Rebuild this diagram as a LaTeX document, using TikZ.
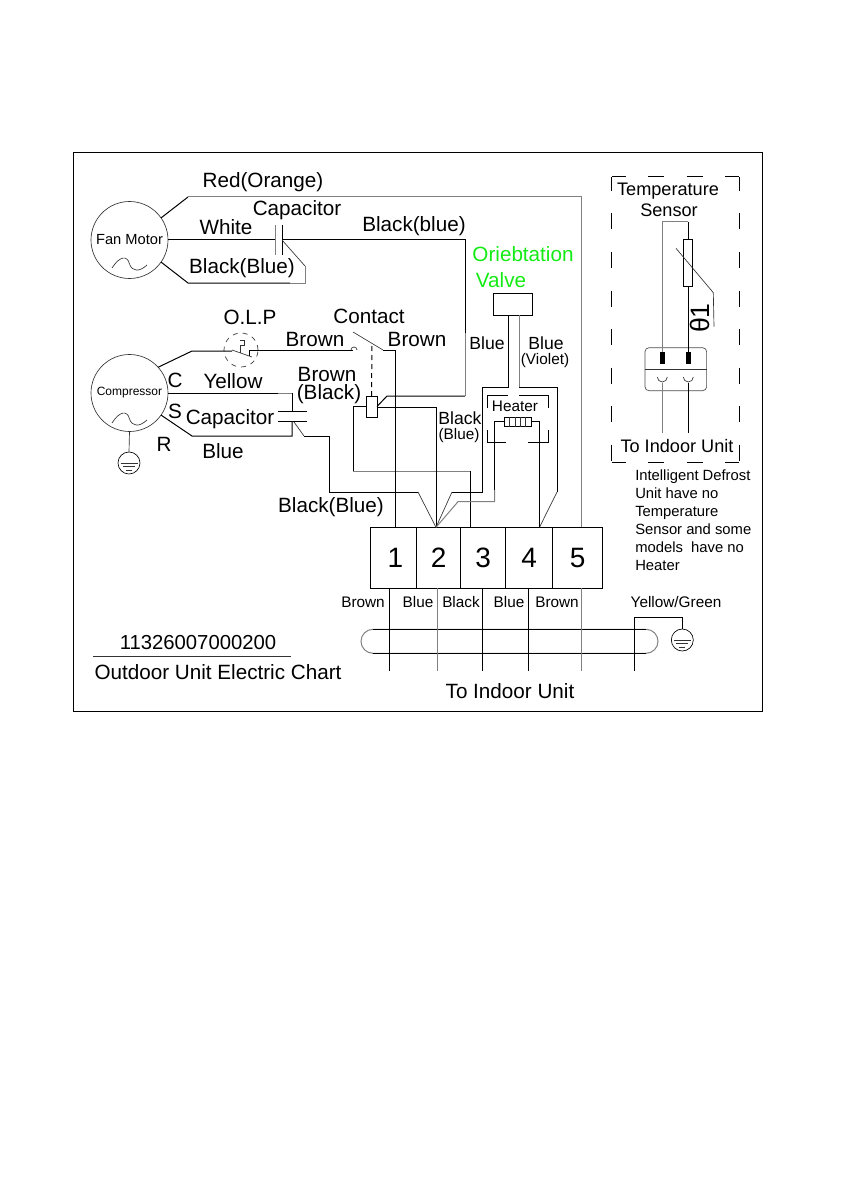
\documentclass[tikz,border=0pt]{standalone}
\usepackage{fontspec}
\setmainfont{Liberation Sans}
\usetikzlibrary{positioning}
\newcommand{\px}{0.75pt}
\definecolor{valvegreen}{RGB}{20,235,20}
\tikzset{
    wire/.style={draw=black, line width=0.75pt},
    greywire/.style={draw=black!50, line width=0.75pt},
    thinwire/.style={draw=black!80, line width=0.5pt},
    dashframe/.style={draw=black, line width=0.75pt, dash pattern=on 16*\px off 22.5*\px, dash phase=2*\px},
    motor/.style={
        circle, draw=black!80, line width=0.5pt,
        minimum size=77*\px, inner sep=0pt, outer sep=0pt
    },
    cell/.style={
        rectangle, draw=black, line width=0.75pt, inner sep=0pt, outer sep=0pt,
        minimum height=61*\px, font=\fontsize{21}{24}\selectfont
    },
    boxpart/.style={rectangle, draw=black, line width=0.75pt, inner sep=0pt, outer sep=0pt},
    earth/.style={
        circle, draw=black, line width=0.5pt,
        minimum size=22*\px, inner sep=0pt, outer sep=0pt
    },
    biglabel/.style={font=\fontsize{15.5}{18}\selectfont, inner sep=0pt},
    midlabel/.style={font=\fontsize{13.2}{15}\selectfont, inner sep=0pt},
    smalllabel/.style={font=\fontsize{11.5}{13.5}\selectfont, inner sep=0pt}
}
\newcommand{\acwave}[2]{\draw[thinwire] (#1-17.5,#2+4) .. controls (#1-10,#2-8) and (#1-2,#2-9) .. (#1,#2) .. controls (#1+3,#2+8) and (#1+10,#2+8) .. (#1+17.5,#2+1);}
\newcommand{\earthbars}[2]{
    \draw[thinwire] (#1-8.5,#2) -- (#1+8.5,#2);
    \draw[thinwire] (#1-6,#2+3.5) -- (#1+6,#2+3.5);
    \draw[thinwire] (#1-3,#2+7) -- (#1+3,#2+7);
}

\begin{document}
\begin{tikzpicture}[x=\px, y=-\px]
\useasboundingbox (0,0) rectangle (842,1191);
\draw[thinwire, draw=black] (73,152) rectangle (762,711);

% Motors
\node[motor, font=\fontsize{11}{13}\selectfont] (fanmotor) at (129.5,240) {Fan Motor};
\node[motor, font=\fontsize{9}{11}\selectfont] (compressor) at (129.5,393) {Compressor};
\acwave{129.5}{264}
\acwave{129.5}{419}

% Terminal block
\node[cell, minimum width=46*\px] (term1) at (393.7,557.8) {\hspace*{2.5pt}1};
\node[cell, minimum width=44*\px] (term2) at (438.7,557.8) {2};
\node[cell, minimum width=45*\px] (term3) at (483.2,557.8) {3};
\node[cell, minimum width=47*\px] (term4) at (529.2,557.8) {4};
\node[cell, minimum width=50*\px] (term5) at (577.7,557.8) {5};
\coordinate (in1) at (395,527.3);
\coordinate (in2) at (436,527.3);
\coordinate (in3) at (470.7,527.3);
\coordinate (in4) at (539.5,527.3);
\coordinate (in5) at (581.5,527.3);

% Fan capacitor and red wire
\coordinate (fancapl) at (275,240);
\coordinate (fancapr) at (282,240);
\draw[greywire] (fancapl |- 0,225) -- (fancapl |- 0,255);
\draw[wire] (fancapr |- 0,225) -- (fancapr |- 0,255);
\draw[wire] (fanmotor.east) -- (fancapl);
\draw[wire] (fanmotor.35) -- (188,197);
\draw[greywire] (188,197) -| (in5);
\draw[wire] (fanmotor.-35) -- (188,283) -- (290,283);
\draw[greywire] (290,283) -- (305,283) -- (305,266);
\draw[thinwire] (305,266) -- (fancapr);

% Relay coil and contact
\node[boxpart, minimum width=11*\px, minimum height=21*\px] (coil) at (371.5,406.5) {};
\draw[wire] (fancapr) -- (465,240) -- (465,333);
\draw[greywire] (465,333) -- (465,396);
\draw[wire] (465,396) -- (387,396) -- (coil.east);
\draw[wire, dash pattern=on 5*\px off 4*\px] (coil.north) -- (372,343);
\draw[wire] (coil.180) -- (353,406.5) -- (353,471);
\draw[greywire] (353,471) -- (470.7,471);
\draw[wire] (470.7,471) -- (in3);
\draw[wire] (coil.east |- 0,407) -- (436,407) -- (in2);
\draw[thinwire] (353,332) -- (383,350);
\draw[wire] (383,350) -- (395,350) -- (in1);

% O.L.P
\node[circle, draw=black!80, line width=0.5pt, dash pattern=on 5*\px off 5*\px, minimum size=34*\px, inner sep=0pt] (olp) at (241,350) {};
\draw[wire] (compressor.42) -- (192,351) -- (232,351);
\draw[thinwire] (232,350) -- (252,357);
\draw[wire] (249.3,356) -- (249.3,350.5) -- (353,350.5);
\draw[thinwire] (351,350) arc[start angle=180, end angle=0, radius=3*\px];
\draw[thinwire] (240,353) -- (240,345) -- (244,345) -- (244,340) -- (240,340);

% Compressor capacitor
\coordinate (compcapa) at (292,411);
\coordinate (compcapb) at (292,421);
\draw[wire] (278,411) -- (307,411);
\draw[wire] (278,421) -- (307,421);
\draw[wire] (compressor.east) -- (278,393);
\draw[greywire] (278,393) -- (292,393);
\draw[wire] (292,393) -- (compcapa);
\draw[wire] (compressor.-35) -- (192,436) -- (292,436) -- (compcapb);
\draw[thinwire] (294,422) -- (304,436);
\draw[wire] (304,436) -- (329,436) -- (329,492) -- (418,492);
\draw[thinwire] (418,492) -- (in2);

% Compressor earth
\node[earth] (compearth) at (129,463) {};
\draw[thinwire] (compressor.south) -- (compearth.north);
\earthbars{129}{463}

% Orientation valve
\node[boxpart, minimum width=39*\px, minimum height=22*\px] (valve) at (512.5,304) {};
\draw[wire] (valve.south -| 508,0) -- (508,387) -- (482,387) -- (482,492) -- (452,492);
\draw[thinwire] (452,492) -- (in2);
\draw[greywire] (valve.south -| 519,0) -- (519,387);
\draw[wire] (519,387) -- (557,387) -- (557,492);
\draw[thinwire] (557,492) -- (in4);

% Heater
\node[boxpart, line width=0.5pt, minimum width=26.7*\px, minimum height=9.7*\px] (heater) at (517.7,421.8) {};
\draw[thinwire] (509.6,417) -- (509.6,426.7);
\draw[thinwire] (515,417) -- (515,426.7);
\draw[thinwire] (520.4,417) -- (520.4,426.7);
\draw[thinwire] (525.8,417) -- (525.8,426.7);
\draw[wire] (487.3,408) -- (487.3,395.7) -- (508,395.7);
\draw[wire] (519,395.7) -- (548,395.7) -- (548,408);
\draw[wire] (487.3,430) -- (487.3,442.3) -- (506,442.3);
\draw[wire] (528,442.3) -- (548,442.3) -- (548,430);
\draw[wire] (heater.west) -- (494.7,421.8) -- (494.7,490);
\draw[greywire] (494.7,490) -- (494.7,501.7) -- (458,501.7) -- (in2);
\draw[wire] (heater.east) -- (539.5,421.8) -- (in4);

% Cable to indoor unit
\node[rectangle, draw=black!50, line width=0.75pt, rounded corners=9pt, minimum width=297*\px, minimum height=24*\px, inner sep=0pt, outer sep=0pt] (tube) at (509.5,641.3) {};
\draw[wire] (373,629.3) -- (646,629.3);
\draw[wire] (373,653.3) -- (646,653.3);
\draw[wire] (389.3,588.3) -- (389.3,670.7);
\draw[greywire] (437.3,588.3) -- (437.3,670.7);
\draw[wire] (482.7,588.3) -- (482.7,670.7);
\draw[wire] (528.7,588.3) -- (528.7,670.7);
\draw[greywire] (581.7,588.3) -- (581.7,670.7);
\node[earth] (cableearth) at (682.3,640) {};
\draw[wire] (634.3,670.7) -- (634.3,617.3) -| (cableearth.north);
\earthbars{682.3}{640}

% Temperature sensor box
\coordinate (boxa) at (611.7,177);
\coordinate (boxb) at (739,177);
\coordinate (boxc) at (739,462.5);
\coordinate (boxd) at (611.7,462.5);
\draw[dashframe] (boxa) -- (boxb);
\draw[dashframe] (boxd) -- (boxc);
\draw[dashframe] (boxa) -- (boxd);
\draw[dashframe] (boxb) -- (boxc);

\node[boxpart, minimum width=9.4*\px, minimum height=46.7*\px] (sensor) at (688,263.3) {};
\node[rectangle, draw=black!70, line width=0.5pt, rounded corners=3pt, minimum width=61.7*\px, minimum height=43*\px, inner sep=0pt, outer sep=0pt] (plug) at (675.8,369.2) {};
\draw[thinwire] (plug.west) -- (plug.east);
\node[rectangle, fill=black, minimum width=5*\px, minimum height=12.3*\px, inner sep=0pt] (pina) at (662.3,358) {};
\node[rectangle, fill=black, minimum width=5*\px, minimum height=12.3*\px, inner sep=0pt] (pinb) at (688.3,358) {};
\draw[greywire] (pina.north) -- (662.3,221.7) -- (688.3,221.7);
\draw[wire] (688.3,221.7) -- (sensor.north -| 688.3,0);
\draw[wire] (sensor.south -| 688.3,0) -- (pinb.north);
\draw[thinwire] (676,248.3) -- (713.3,292.7) -- (714,326.7);
\coordinate (cupa) at (662.3,382.5);
\coordinate (cupb) at (688.3,382.5);
\draw[thinwire] (657.3,377) arc[start angle=180, end angle=360, radius=5*\px];
\draw[thinwire] (683.3,377) arc[start angle=180, end angle=360, radius=5*\px];
\draw[greywire] (cupa) -- (662.3,433.3);
\draw[wire] (cupb) -- (688.3,433.3);

% Labels around the fan motor
\node[biglabel] (lred) at (263,182) {Red(Orange)};
\node[biglabel] (lwhite) at (226,227) {White};
\node[biglabel] (lfancap) at (297,210) {Capacitor};
\node[biglabel] (lfanblue) at (414,226) {Black(blue)};
\node[biglabel] (lfanblack) at (242,268) {Black(Blue)};

% Labels around the compressor
\node[biglabel] (lolp) at (250,317) {O.L.P};
\node[biglabel] (lcontact) at (369,316) {Contact};
\node[biglabel] (lbrowna) at (315,339) {Brown};
\node[biglabel] (lbrownb) at (417,339) {Brown};
\node[biglabel] (lc) at (175,380) {C};
\node[biglabel] (ls) at (175,411) {S};
\node[biglabel] (lr) at (164,444) {R};
\node[biglabel] (lyellow) at (233,381) {Yellow};
\node[biglabel] (lbrownc) at (327,374) {Brown};
\node[biglabel] (lblackb) at (329,394) {(Black)};
\node[biglabel] (lcompcap) at (230,419) {Capacitor};
\node[biglabel] (lblue) at (223,451) {Blue};
\node[biglabel] (lcompblack) at (331,507) {Black(Blue)};

% Labels around the valve
\node[biglabel, text=valvegreen] (lvalvea) at (523,254) {Oriebtation};
\node[biglabel, text=valvegreen] (lvalveb) at (501,280) {Valve};
\node[midlabel] (lbluea) at (487,343) {Blue};
\node[midlabel] (lblueb) at (546,343) {Blue};
\node[smalllabel] (lviolet) at (545,361) {(Violet)};
\node[midlabel] (lblack) at (460,418) {Black};
\node[smalllabel] (lblackblue) at (459,436) {(Blue)};
\node[smalllabel] (lheater) at (515,406) {Heater};

% Labels under the terminal block
\node[smalllabel] (lwirea) at (363,602) {Brown};
\node[smalllabel] (lwireb) at (418,602) {Blue};
\node[smalllabel] (lwirec) at (461,602) {Black};
\node[smalllabel] (lwired) at (509,602) {Blue};
\node[smalllabel] (lwiree) at (557,602) {Brown};
\node[smalllabel] (lwiref) at (676,602) {Yellow/Green};
\node[biglabel] (lindoor) at (510,691) {To Indoor Unit};

% Labels of the sensor box
\node[midlabel, font=\fontsize{13.6}{15}\selectfont] (ltemp) at (668,191) {Temperature};
\node[midlabel, font=\fontsize{13.6}{15}\selectfont] (lsens) at (669,210) {Sensor};
\node[font=\fontsize{20}{23}\selectfont, inner sep=0pt, rotate=90] (ltheta) at (700,318) {θ1};
\node[midlabel, font=\fontsize{13.6}{15}\selectfont] (lindoorb) at (677,446) {To Indoor Unit};
\node[font=\fontsize{11.1}{13.5}\selectfont, align=left, anchor=north west, inner sep=0pt] (lnote) at (635,470) {Intelligent Defrost\\Unit have no\\Temperature\\Sensor and some\\models\ \ have no\\Heater};

% Chart title
\node[biglabel, font=\fontsize{15.2}{18}\selectfont] (lnumber) at (198,643) {11326007000200};
\coordinate (titlea) at (93,656);
\coordinate (titleb) at (291,656);
\draw[thinwire] (titlea) -- (titleb);
\node[biglabel] (ltitle) at (218,672) {Outdoor Unit Electric Chart};

\end{tikzpicture}
\end{document}
